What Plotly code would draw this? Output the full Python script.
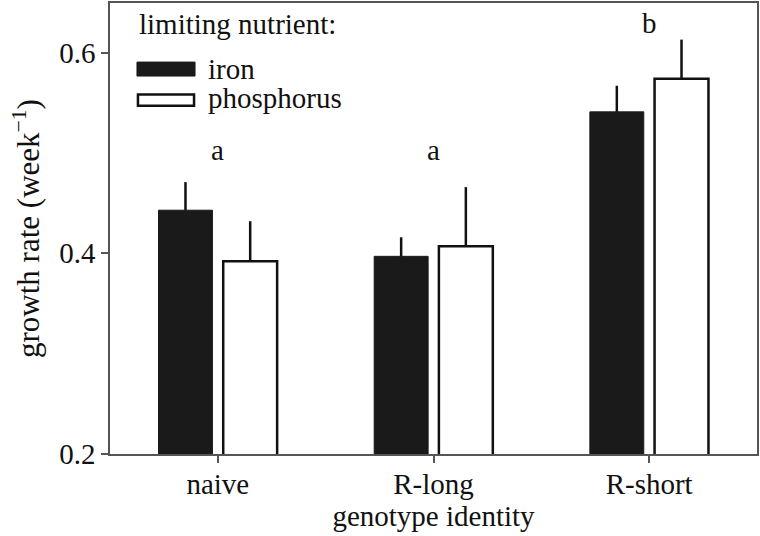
import plotly.graph_objects as go

genotypes = ["naive", "R-long", "R-short"]
iron_mean = [0.443, 0.397, 0.541]
iron_err = [0.028, 0.019, 0.026]
phos_mean = [0.392, 0.407, 0.574]
phos_err = [0.040, 0.059, 0.039]
sig_letters = ["a", "a", "b"]
sig_y = [0.503, 0.503, 0.630]
y_ticks = [0.2, 0.4, 0.6]

FONT = "Times New Roman, Liberation Serif, serif"
FS = 29

fig = go.Figure()
fig.add_trace(go.Bar(
    x=genotypes, y=iron_mean, name="iron",
    marker=dict(color="#1a1a1a", line=dict(color="#1a1a1a", width=1)),
    error_y=dict(type="data", symmetric=False, array=iron_err,
                 arrayminus=[0] * len(iron_err), width=0, thickness=2.5, color="#111"),
    showlegend=False,
))
fig.add_trace(go.Bar(
    x=genotypes, y=phos_mean, name="phosphorus",
    marker=dict(color="white", line=dict(color="#111", width=2.5)),
    error_y=dict(type="data", symmetric=False, array=phos_err,
                 arrayminus=[0] * len(phos_err), width=0, thickness=2.5, color="#111"),
    showlegend=False,
))

annotations = []
for g, lt, yy in zip(genotypes, sig_letters, sig_y):
    annotations.append(dict(x=g, y=yy, xref="x", yref="y", text=lt, showarrow=False,
                            font=dict(family=FONT, size=FS, color="#111")))

# legend drawn manually
annotations.append(dict(x=0.0417, y=0.953, xref="paper", yref="paper", text="limiting nutrient:",
                        showarrow=False, xanchor="left", yanchor="middle",
                        font=dict(family=FONT, size=FS, color="#111")))
annotations.append(dict(x=0.1480, y=0.853, xref="paper", yref="paper", text="iron",
                        showarrow=False, xanchor="left", yanchor="middle",
                        font=dict(family=FONT, size=FS, color="#111")))
annotations.append(dict(x=0.1480, y=0.790, xref="paper", yref="paper", text="phosphorus",
                        showarrow=False, xanchor="left", yanchor="middle",
                        font=dict(family=FONT, size=FS, color="#111")))
shapes = [
    dict(type="rect", xref="paper", yref="paper", x0=0.0417, x1=0.1314, y0=0.838, y1=0.869,
         fillcolor="#1a1a1a", line=dict(color="#1a1a1a", width=1)),
    dict(type="rect", xref="paper", yref="paper", x0=0.0432, x1=0.1299, y0=0.772, y1=0.797,
         fillcolor="white", line=dict(color="#111", width=2.5)),
]

fig.update_layout(
    width=760, height=536,
    margin=dict(l=110, r=3, t=3, b=82, autoexpand=False),
    paper_bgcolor="white", plot_bgcolor="white",
    barmode="group", bargap=0.4, bargroupgap=0.1667,
    font=dict(family=FONT, size=FS, color="#111"),
    annotations=annotations, shapes=shapes,
    xaxis=dict(
        range=[-0.5, 2.5], showline=True, mirror=True, linecolor="#555", linewidth=1.5,
        ticks="outside", ticklen=7, tickcolor="#555", tickwidth=1.5,
        ticklabelstandoff=-4,
        showgrid=False, zeroline=False, automargin=False,
        tickfont=dict(family=FONT, size=FS, color="#111"),
        title=dict(text="genotype identity", standoff=0,
                   font=dict(family=FONT, size=FS, color="#111")),
    ),
    yaxis=dict(
        range=[0.2, 0.6495], showline=True, mirror=True, linecolor="#555", linewidth=1.5,
        ticks="outside", ticklen=7, tickcolor="#555", tickwidth=1.5,
        tickvals=y_ticks, ticktext=[f"{v:.1f}" for v in y_ticks],
        showgrid=False, zeroline=False, automargin=False,
        tickfont=dict(family=FONT, size=FS, color="#111"),
        title=dict(text="growth rate (week<sup>−1</sup>)", standoff=10,
                   font=dict(family=FONT, size=31, color="#111")),
    ),
)

fig.write_html("out.html", config={"displayModeBar": False},
               post_script="document.body.style.margin='0';")
